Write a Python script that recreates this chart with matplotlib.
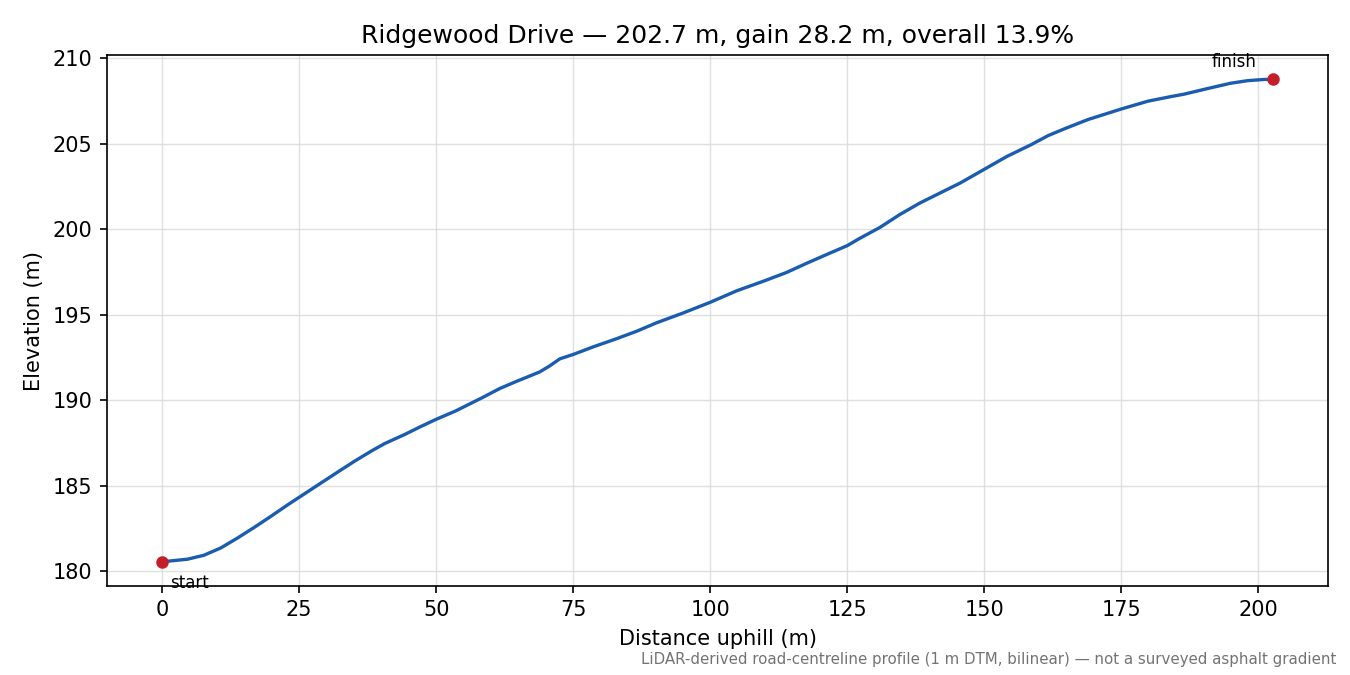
import matplotlib
matplotlib.use("Agg")
import matplotlib.pyplot as plt

# profile (distance uphill in m, elevation in m)
distance = [0, 4.6, 7.6, 10.7, 13.75, 16.8, 19.9, 22.9, 25, 29, 32.1, 35.1,
            38.2, 40.6, 44.3, 47.4, 50, 53.5, 58.5, 61.6, 64.6, 68.9, 70.7,
            72.6, 75, 78.7, 82.9, 86.6, 90.2, 95.1, 100, 104.9, 109.6, 113.9,
            117.6, 121.8, 125, 127.3, 131, 134.6, 138.3, 141.95, 145.6, 150,
            154.1, 158.6, 161.7, 164.7, 168.9, 175, 179.9, 184.1, 186.5,
            190.8, 195, 198.1, 201.1, 202.7]
elevation = [180.55, 180.70, 180.93, 181.36, 181.94, 182.56, 183.22, 183.88,
             184.32, 185.16, 185.81, 186.43, 187.03, 187.46, 188.0, 188.49,
             188.88, 189.36, 190.16, 190.68, 191.09, 191.65, 192.0, 192.42,
             192.67, 193.12, 193.59, 194.03, 194.52, 195.10, 195.72, 196.40,
             196.94, 197.46, 198.0, 198.59, 199.03, 199.46, 200.10, 200.85,
             201.53, 202.11, 202.69, 203.49, 204.24, 204.94, 205.47, 205.87,
             206.40, 207.02, 207.48, 207.75, 207.89, 208.22, 208.53, 208.68,
             208.75, 208.75]

road = "Ridgewood Drive"
total_len = 202.7
gain = 28.2
grade = 13.9
note = "LiDAR-derived road-centreline profile (1 m DTM, bilinear) \u2014 not a surveyed asphalt gradient"

line_col = "#1a5cb0"
dot_col = "#c41e2a"

fig, ax = plt.subplots(figsize=(9, 4.5), dpi=150)
fig.subplots_adjust(left=0.079, right=0.984, top=0.918, bottom=0.132)

ax.plot(distance, elevation, color=line_col, lw=1.6, zorder=3,
        solid_joinstyle="round")
ax.plot([distance[0], distance[-1]], [elevation[0], elevation[-1]], "o",
        color=dot_col, ms=5, zorder=4)

ax.annotate("start", (distance[0], elevation[0]), xytext=(4, -6),
            textcoords="offset points", ha="left", va="top", fontsize=8)
ax.annotate("finish", (distance[-1], elevation[-1]), xytext=(-8, 4),
            textcoords="offset points", ha="right", va="bottom", fontsize=8)

ax.grid(True, color="0.85", lw=0.7, alpha=0.8)
ax.tick_params(labelsize=10)
ax.set_xlabel("Distance uphill (m)", fontsize=10)
ax.set_ylabel("Elevation (m)", fontsize=10)
ax.set_title(f"{road} \u2014 {total_len} m, gain {gain} m, overall {grade}%", fontsize=12)

fig.text(0.99, 0.012, note, ha="right", va="bottom", fontsize=7.2, color="0.45")

fig.savefig("out.png", dpi=150)
